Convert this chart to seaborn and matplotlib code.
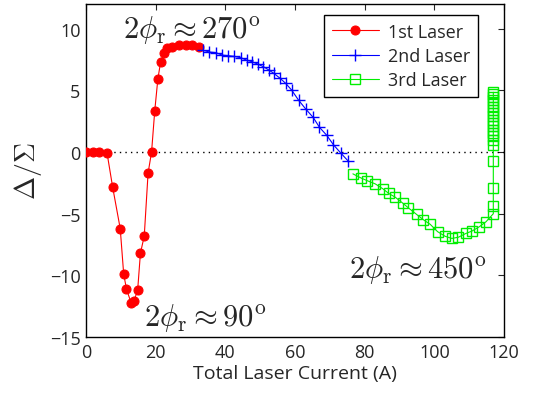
import numpy as np
import pandas as pd
import matplotlib
matplotlib.use("Agg")
import matplotlib.pyplot as plt
import seaborn as sns

# values
laser1_x = [0, 1.9, 3.8, 6.0, 7.6, 9.8, 10.8, 11.6, 12.9, 13.7, 14.8, 15.6, 16.7, 17.8, 18.8,
            19.7, 20.6, 21.4, 22.4, 23.3, 24.7, 26.7, 28.6, 30.5, 32.4]
laser1_y = [0, 0, 0, -0.05, -2.8, -6.2, -9.9, -11.1, -12.2, -12.1, -11.2, -8.2, -6.8, -1.7, 0.0,
            3.3, 5.9, 7.3, 8.0, 8.4, 8.5, 8.65, 8.7, 8.65, 8.5]

laser2_x = [33.5, 35.4, 37.2, 39.1, 40.8, 42.6, 44.4, 46.1, 47.7, 49.3, 50.9, 52.5, 53.9,
            55.7, 57.3, 59.0, 61.0, 63.0, 65.2, 67.0, 69.1, 71.0, 73.1, 75.3]
laser2_y = [8.25, 8.1, 8.05, 7.85, 7.8, 7.74, 7.64, 7.44, 7.31, 7.12, 6.91, 6.64, 6.37,
            5.97, 5.56, 5.02, 4.2, 3.5, 2.8, 2.0, 1.35, 0.59, -0.08, -0.75]

laser3_x = [76.6, 78.9, 80.6, 83.0, 85.2, 86.9, 88.7, 90.9, 92.5, 94.9, 96.8, 98.8, 100.9,
            103.1, 105.0, 106.9, 109.0, 110.8, 112.9, 114.8,
            116.9, 116.9, 116.9, 116.9, 116.9, 116.9, 116.9, 116.9, 116.9, 116.9, 116.9,
            116.9, 116.9, 116.9, 116.9, 116.9, 116.9, 116.9, 116.9, 116.9, 116.9]
laser3_y = [-1.77, -2.1, -2.31, -2.58, -2.98, -3.36, -3.65, -4.14, -4.52, -5.06, -5.48, -5.86, -6.45,
            -6.83, -7.0, -6.9, -6.6, -6.4, -6.05, -5.65,
            -5.0, -4.4, -2.9, -0.7, 0.59, 0.99, 1.26, 1.53, 1.8, 2.07, 2.34,
            2.6, 2.88, 3.15, 3.41, 3.68, 3.95, 4.22, 4.49, 4.68, 4.84]

sns.set_style("white")
plt.rcParams["mathtext.fontset"] = "cm"
plt.rcParams["font.family"] = ["Open Sans", "DejaVu Sans"]

fig = plt.figure(figsize=(5.38, 4.06), dpi=100)
ax = fig.add_axes([0.160, 0.167, 0.777, 0.821])

ax.axhline(0, color="black", linestyle=(0, (1, 3)), linewidth=1, zorder=1)

sns.lineplot(x=laser1_x, y=laser1_y, ax=ax, color="red", marker="o", markersize=6.5,
             markeredgecolor="red", linewidth=0.8, sort=False, estimator=None,
             label="1st Laser", zorder=3)
sns.lineplot(x=laser2_x, y=laser2_y, ax=ax, color="blue", marker="+", markersize=8,
             markeredgecolor="blue", markeredgewidth=1.0, linewidth=0.8, sort=False,
             estimator=None, label="2nd Laser", zorder=3)
sns.lineplot(x=laser3_x, y=laser3_y, ax=ax, color="#00ee00", marker="s", markersize=7,
             markerfacecolor="none", markeredgecolor="#00ee00", markeredgewidth=1.0,
             linewidth=0.8, sort=False, estimator=None, label="3rd Laser", zorder=3)

ax.set_xlim(0, 120)
ax.set_ylim(-15, 12)
ax.set_xticks([0, 20, 40, 60, 80, 100, 120])
ax.set_yticks([-15, -10, -5, 0, 5, 10])
ax.tick_params(direction="in", length=4, width=0.8, top=True, right=True,
               labelsize=13, pad=4)
ax.set_yticklabels(["\u221215", "\u221210", "\u22125", "0", "5", "10"])
for s in ax.spines.values():
    s.set_linewidth(1.0)
    s.set_color("black")

ax.set_xlabel("Total Laser Current (A)", fontsize=14, labelpad=2)
ax.set_ylabel(r"$\Delta/\Sigma$", fontsize=20, labelpad=4)

ax.text(30.3, 10.0, r"$2\phi_{\rm r}\approx 270^{\rm o}$", fontsize=22, ha="center", va="center")
ax.text(34.2, -13.4, r"$2\phi_{\rm r}\approx 90^{\rm o}$", fontsize=22, ha="center", va="center")
ax.text(95.2, -9.5, r"$2\phi_{\rm r}\approx 450^{\rm o}$", fontsize=22, ha="center", va="center")

leg = ax.legend(loc="upper right", bbox_to_anchor=(0.938, 0.968), borderaxespad=0,
                fontsize=13, frameon=True, fancybox=False, framealpha=1, edgecolor="black",
                borderpad=0.45, labelspacing=0.35, handlelength=2.6, handletextpad=0.5)
leg.get_frame().set_linewidth(1.0)

fig.savefig("out.png", dpi=100)
